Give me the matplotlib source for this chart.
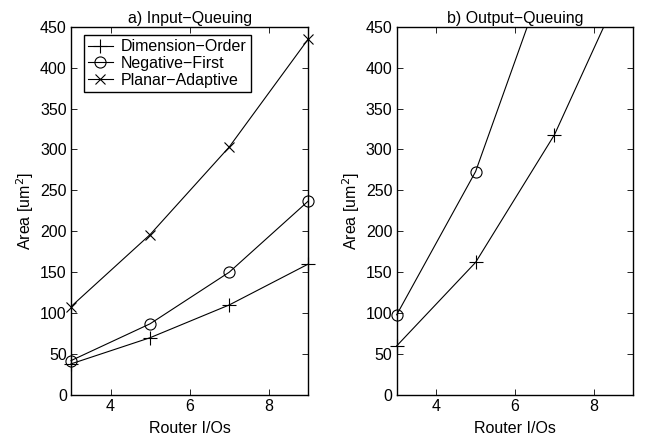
import matplotlib
matplotlib.use("Agg")
import matplotlib.pyplot as plt
from matplotlib.patches import Rectangle

plt.rcParams['font.family'] = ['Liberation Sans', 'DejaVu Sans']
FS = 11.5
plt.rcParams['font.size'] = FS

router_ios = [3, 5, 7, 9]

# a) Input-Queuing
in_dim_order = [38, 70, 110, 160]
in_neg_first = [42, 87, 150, 237]
in_planar = [108, 196, 303, 435]

# b) Output-Queuing
out_dim_order = [60, 162, 318, 529]
out_neg_first = [98, 273, 543, 900]

series_names = ["Dimension\u2212Order", "Negative\u2212First", "Planar\u2212Adaptive"]
titles = ["a) Input\u2212Queuing", "b) Output\u2212Queuing"]
yticks = [0, 50, 100, 150, 200, 250, 300, 350, 400, 450]
xticks = [4, 6, 8]

fig = plt.figure(figsize=(6.54, 4.45), dpi=100)
ax1 = fig.add_axes([0.1086, 0.1124, 0.3628, 0.8276])
ax2 = fig.add_axes([0.6066, 0.1124, 0.3618, 0.8276])

lkw = dict(color='black', linewidth=0.8)
ax1.plot(router_ios, in_dim_order, marker='+', markersize=10, markeredgewidth=0.8, label=series_names[0], **lkw)
ax1.plot(router_ios, in_neg_first, marker='o', markersize=8, markerfacecolor='none', markeredgewidth=0.8, label=series_names[1], **lkw)
ax1.plot(router_ios, in_planar, marker='x', markersize=7, markeredgewidth=0.8, label=series_names[2], **lkw)

ax2.plot(router_ios, out_dim_order, marker='+', markersize=10, markeredgewidth=0.8, **lkw)
ax2.plot(router_ios, out_neg_first, marker='o', markersize=8, markerfacecolor='none', markeredgewidth=0.8, **lkw)

for ax, t in zip([ax1, ax2], titles):
    ax.set_xlim(3, 9)
    ax.set_ylim(0, 450)
    ax.set_xticks(xticks)
    ax.set_yticks(yticks)
    ax.set_title(t, fontsize=FS, pad=3)
    ax.set_xlabel("Router I/Os", fontsize=FS, labelpad=5)
    ax.set_ylabel("Area [um$^2$]", fontsize=FS, labelpad=3)
    ax.tick_params(direction='in', top=True, right=True, length=4, width=0.6, labelsize=FS, pad=3)
    for s in ax.spines.values():
        s.set_linewidth(1.0)
    clip = Rectangle((-0.1, 0.0), 1.2, 1.0, transform=ax.transAxes)
    for p in ax.lines:
        p.set_clip_path(clip)

leg = ax1.legend(loc='upper left', bbox_to_anchor=(0.04, 0.985), frameon=True, fancybox=False,
                 edgecolor='black', framealpha=1, fontsize=FS, handlelength=1.6,
                 borderpad=0.25, labelspacing=0.1, handletextpad=0.5, borderaxespad=0.2)
leg.get_frame().set_linewidth(1.0)

fig.savefig("out.png", dpi=100)
